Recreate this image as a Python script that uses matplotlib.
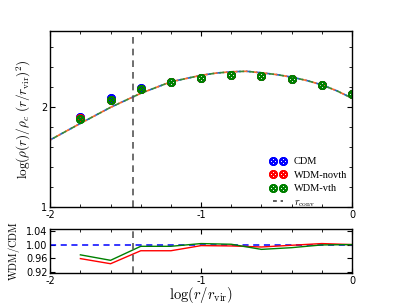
import matplotlib
matplotlib.use("Agg")
import matplotlib.pyplot as plt
from matplotlib.ticker import MultipleLocator
from matplotlib.lines import Line2D

plt.rcParams['mathtext.fontset'] = 'cm'
plt.rcParams['axes.unicode_minus'] = False
plt.rcParams['font.family'] = ['DejaVu Sans']

# data points
logr = [-1.8, -1.6, -1.4, -1.2, -1.0, -0.8, -0.6, -0.4, -0.2, 0.0]
cdm = [1.895, 2.085, 2.185, 2.25, 2.29, 2.32, 2.31, 2.28, 2.22, 2.13]
wdm_novth = [1.885, 2.072, 2.18, 2.25, 2.29, 2.32, 2.31, 2.28, 2.22, 2.13]
wdm_vth = [1.88, 2.065, 2.18, 2.25, 2.29, 2.318, 2.305, 2.278, 2.22, 2.13]

# fitted profile
fit_x = [-2.0, -1.8, -1.6, -1.4, -1.2, -1.0, -0.9, -0.8, -0.7, -0.6, -0.5, -0.4, -0.3, -0.2, -0.1, 0.0]
fit_y = [1.67, 1.835, 1.995, 2.135, 2.25, 2.315, 2.337, 2.35, 2.355, 2.34, 2.322, 2.297, 2.263, 2.22, 2.16, 2.087]

# ratios
ratio_novth = [0.959, 0.944, 0.982, 0.982, 0.997, 0.996, 0.993, 0.998, 1.003, 1.0]
ratio_vth = [0.970, 0.954, 0.995, 0.995, 1.003, 1.001, 0.986, 0.991, 0.999, 1.0]

r_conv = -1.45

fig = plt.figure(figsize=(4.05, 3.04), dpi=100)
ax1 = fig.add_axes([0.124, 0.319, 0.745, 0.58])
ax2 = fig.add_axes([0.124, 0.101, 0.745, 0.145])

mk = r'$\otimes$'
ax1.plot(fit_x, fit_y, ls=(0, (3, 3)), color='#1f5fd4', lw=1.2)
ax1.plot(fit_x, fit_y, ls=(2, (3, 3)), color='#ff6a2a', lw=1.2)
ax1.plot(fit_x, fit_y, ls=(4, (3, 3)), color='#3a8a3a', lw=1.2)

h1, = ax1.plot(logr, cdm, ls='none', marker=mk, color='blue', ms=5.5, label='CDM')
h2, = ax1.plot(logr, wdm_novth, ls='none', marker=mk, color='red', ms=5.5, label='WDM-novth')
h3, = ax1.plot(logr, wdm_vth, ls='none', marker=mk, color='green', ms=5.5, label='WDM-vth')
ax1.axvline(r_conv, color='#555555', ls=(0, (4, 3)), lw=1.2)
h4 = Line2D([], [], color='#333333', ls=(0, (2.5, 2.5)), lw=1.1, label=r'$r_{\rm conv}$')

ax1.set_xlim(-2, 0)
ax1.set_ylim(1, 2.76)
ax1.xaxis.set_major_locator(MultipleLocator(1))
ax1.xaxis.set_minor_locator(MultipleLocator(0.2))
ax1.yaxis.set_major_locator(MultipleLocator(1))
ax1.yaxis.set_minor_locator(MultipleLocator(0.2))
ax1.set_ylabel(r'$\log(\rho(r)/\rho_c\ (r/r_{\rm vir})^2)$', fontsize=9.5, labelpad=6)
leg = ax1.legend(handles=[h1, h2, h3, h4], loc='lower right', bbox_to_anchor=(1.0, -0.035),
                 numpoints=2, frameon=False,
                 prop={'family': 'Liberation Serif', 'size': 7.5},
                 handlelength=1.6, labelspacing=0.4, borderaxespad=0.05,
                 handletextpad=0.7)

ax2.axhline(1.0, color='blue', ls=(0, (4, 3)), lw=1.1)
ax2.plot(logr, ratio_novth, color='red', lw=1.0)
ax2.plot(logr, ratio_vth, color='green', lw=1.0)
ax2.axvline(r_conv, color='#555555', ls=(0, (4, 3)), lw=1.2)
ax2.set_xlim(-2, 0)
ax2.set_ylim(0.916, 1.045)
ax2.xaxis.set_major_locator(MultipleLocator(1))
ax2.xaxis.set_minor_locator(MultipleLocator(0.2))
ax2.set_yticks([0.92, 0.96, 1.00, 1.04])
ax2.set_yticklabels(['0.92', '0.96', '1.00', '1.04'])
ax2.set_ylabel(r'$\mathrm{WDM/CDM}$', fontsize=7.5, labelpad=3)
ax2.set_xlabel(r'$\log(r/r_{\rm vir})$', fontsize=10.5, labelpad=-1)

for ax in (ax1, ax2):
    ax.tick_params(which='both', direction='in', top=True, right=True, labelsize=7, pad=2)
    ax.tick_params(which='major', length=3.5)
    ax.tick_params(which='minor', length=2)
    for s in ax.spines.values():
        s.set_linewidth(1.0)

fig.savefig('out.png', dpi=100)
